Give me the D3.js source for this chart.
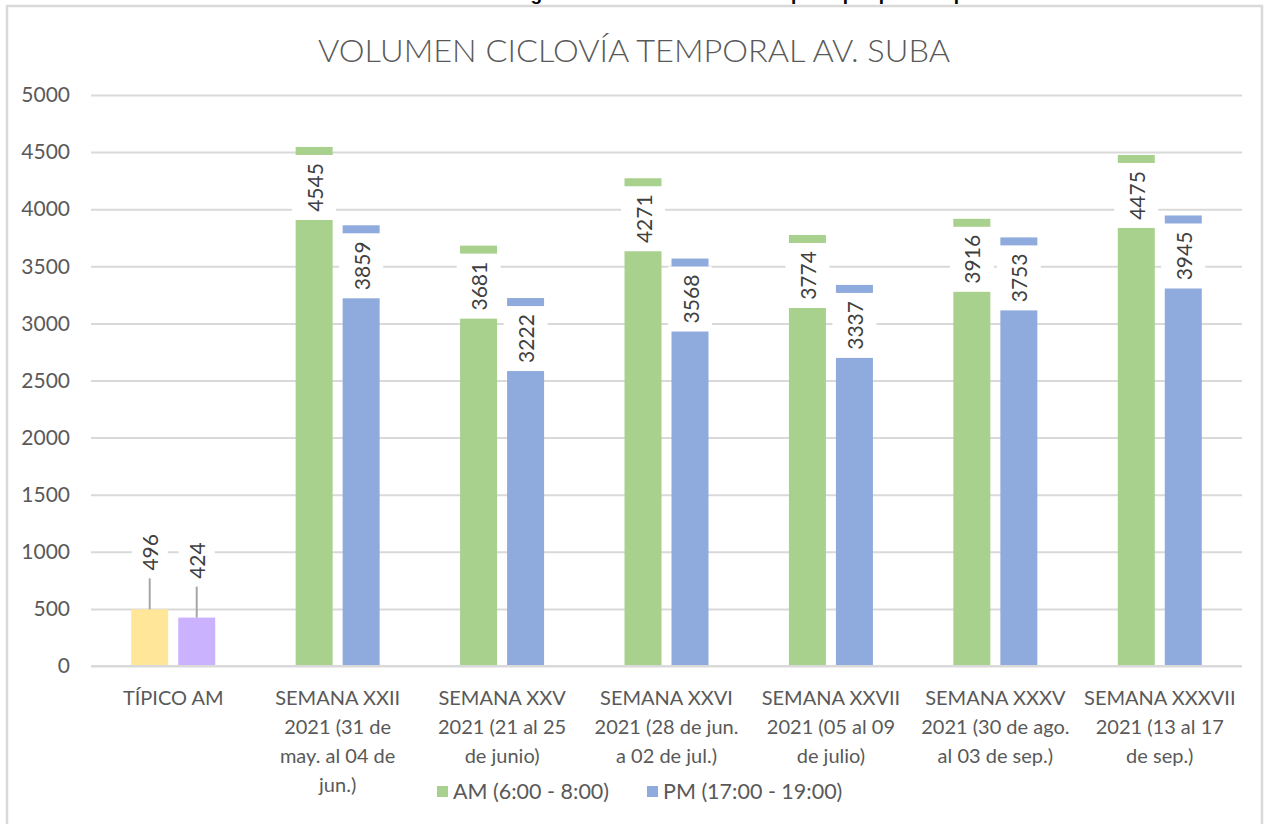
<!DOCTYPE html>
<html>
<head>
<meta charset="utf-8">
<script src="https://cdn.jsdelivr.net/npm/d3@7"></script>
<style>
  body { margin: 0; background: #fff; }
  svg text { font-family: Lato, "Open Sans", sans-serif; }
</style>
</head>
<body>
<div class="canvas"></div>
<script>
// Data
const categories = [
    ["TÍPICO AM"],
    ["SEMANA XXII", "2021 (31 de", "may. al 04 de", "jun.)"],
    ["SEMANA XXV", "2021 (21 al 25", "de junio)"],
    ["SEMANA XXVI", "2021 (28 de jun.", "a 02 de jul.)"],
    ["SEMANA XXVII", "2021 (05 al 09", "de julio)"],
    ["SEMANA XXXV", "2021 (30 de ago.", "al 03 de sep.)"],
    ["SEMANA XXXVII", "2021 (13 al 17", "de sep.)"]
];
const amValues = [496, 4545, 3681, 4271, 3774, 3916, 4475];
const pmValues = [424, 3859, 3222, 3568, 3337, 3753, 3945];
const yTicks = [0, 500, 1000, 1500, 2000, 2500, 3000, 3500, 4000, 4500, 5000];
const seriesNames = ["AM (6:00 - 8:00)", "PM (17:00 - 19:00)"];

const seriesColors = ["#A9D18E", "#8FAADC"];
const typicalColors = ["#FFE699", "#CAB2FE"];   // first group has its own colours

// Layout
const width = 1265, height = 824;
const margin = { top: 95, right: 23, bottom: 158, left: 91 };
const plotRight = width - margin.right;
const plotBottom = height - margin.bottom;

const svg = d3.select('.canvas')
    .append('svg')
    .attr('width', width)
    .attr('height', height);

// chart frame
svg.append('rect')
    .attr('x', 7).attr('y', 6)
    .attr('width', 1255).attr('height', 840)
    .attr('fill', 'none')
    .attr('stroke', '#D9D9D9')
    .attr('stroke-width', 2.5);

// document caption above the chart, cut off by the top edge like in the source
svg.append('text')
    .attr('x', 787).attr('y', 0)
    .attr('text-anchor', 'middle')
    .style('font-family', '"Liberation Sans", Arial, sans-serif')
    .style('font-weight', 'bold')
    .style('font-size', '19px')
    .attr('fill', '#000')
    .text('Figura 5. Volumen ciclovía temporal por periodo pico – Suba');

// title
svg.append('text')
    .attr('x', 634).attr('y', 62)
    .attr('text-anchor', 'middle')
    .attr('textLength', 632)
    .attr('lengthAdjust', 'spacingAndGlyphs')
    .style('font-size', '31px')
    .style('font-weight', 300)
    .attr('fill', '#595959')
    .text('VOLUMEN CICLOVÍA  TEMPORAL AV. SUBA');

// Scales
const y = d3.scaleLinear().domain([0, 5000]).range([plotBottom, margin.top]);
const x = d3.scaleBand().domain(d3.range(categories.length))
    .range([margin.left, plotRight]).padding(0);
const groupWidth = 84;
const xs = d3.scaleBand().domain([0, 1]).range([0, groupWidth]).paddingInner(10 / 47);
const groupOffset = (x.bandwidth() - groupWidth) / 2;

// Gridlines + y tick labels
const yAxis = d3.axisLeft(y)
    .tickValues(yTicks)
    .tickFormat(d3.format('d'))
    .tickSize(-(plotRight - margin.left))
    .tickPadding(21);
const gy = svg.append('g')
    .attr('transform', `translate(${margin.left},0)`)
    .call(yAxis);
gy.select('.domain').remove();
gy.selectAll('.tick line').attr('stroke', '#D9D9D9').attr('stroke-width', 2);
gy.selectAll('.tick text')
    .attr('fill', '#595959')
    .style('font-size', '21px');

// Bars
const rows = [];
categories.forEach((c, i) => {
    [amValues[i], pmValues[i]].forEach((v, s) => {
        rows.push({ cat: i, s: s, value: v,
            color: i === 0 ? typicalColors[s] : seriesColors[s] });
    });
});

const bars = svg.append('g');
bars.selectAll('rect')
    .data(rows)
    .enter().append('rect')
    .attr('x', d => x(d.cat) + groupOffset + xs(d.s))
    .attr('y', d => y(d.value))
    .attr('width', xs.bandwidth())
    .attr('height', d => y(0) - y(d.value))
    .attr('fill', d => d.color);

// Data labels (white boxes, rotated text)
const labels = svg.append('g');
rows.forEach(d => {
    const cx = x(d.cat) + groupOffset + xs(d.s) + xs.bandwidth() / 2;
    const top = y(d.value);
    let cy, boxW, boxH;
    if (d.value < 1000) {
        // outside end with leader line
        cy = top - 57; boxW = 36; boxH = 50;
        labels.append('line')
            .attr('x1', cx).attr('x2', cx)
            .attr('y1', top).attr('y2', top - 31)
            .attr('stroke', '#A6A6A6').attr('stroke-width', 2);
    } else {
        cy = top + 40.5; boxW = 44; boxH = 65;
    }
    labels.append('rect')
        .attr('x', cx - boxW / 2).attr('y', cy - boxH / 2)
        .attr('width', boxW).attr('height', boxH)
        .attr('fill', '#fff');
    labels.append('text')
        .attr('transform', `translate(${cx},${cy}) rotate(-90)`)
        .attr('text-anchor', 'middle')
        .attr('dominant-baseline', 'central')
        .attr('fill', '#404040')
        .style('font-size', '21px')
        .text(d.value);
});

// x axis line and category labels
svg.append('line')
    .attr('x1', margin.left).attr('x2', plotRight)
    .attr('y1', y(0)).attr('y2', y(0))
    .attr('stroke', '#D9D9D9').attr('stroke-width', 2);

const xl = svg.append('g');
categories.forEach((lines, i) => {
    const t = xl.append('text')
        .attr('text-anchor', 'middle')
        .attr('fill', '#595959')
        .style('font-size', '20px');
    lines.forEach((ln, k) => {
        t.append('tspan')
            .attr('x', x(i) + x.bandwidth() / 2)
            .attr('y', 705 + k * 29)
            .text(ln);
    });
});

// Legend
const legendX = [437, 647];
const legend = svg.append('g');
seriesNames.forEach((n, s) => {
    legend.append('rect')
        .attr('x', legendX[s]).attr('y', 786)
        .attr('width', 11).attr('height', 11)
        .attr('fill', seriesColors[s]);
    legend.append('text')
        .attr('x', legendX[s] + 16).attr('y', 799)
        .attr('fill', '#595959')
        .style('font-size', '21.5px')
        .text(n);
});
</script>
</body>
</html>
